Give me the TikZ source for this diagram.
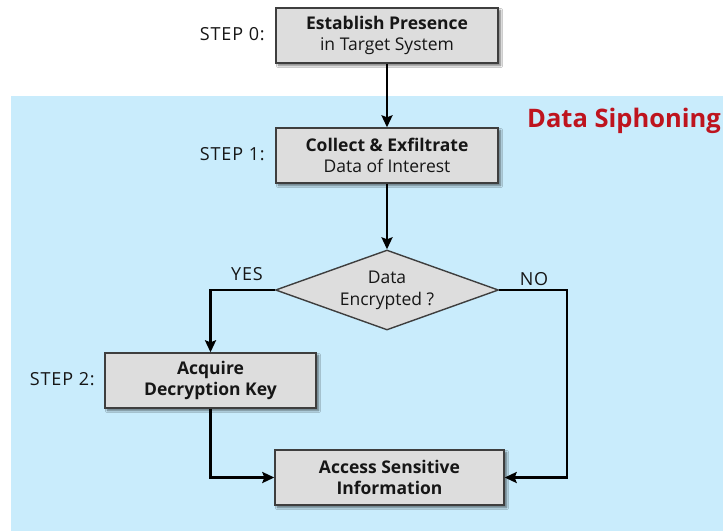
\documentclass[tikz,border=0pt]{standalone}
\usepackage{fontspec}
\setmainfont{Open Sans}
\usetikzlibrary{shapes.geometric,arrows.meta,shadows.blur}

\definecolor{panelblue}{RGB}{201,236,252}
\definecolor{boxgrey}{RGB}{221,221,221}
\definecolor{boxedge}{RGB}{62,62,62}
\definecolor{inkdark}{RGB}{22,22,22}
\definecolor{titlered}{RGB}{190,20,30}

\tikzset{
  stepbox/.style={draw=boxedge, line width=1.4pt, fill=boxgrey,
    minimum height=55pt, inner sep=0pt, align=center, text=inkdark,
    font=\fontsize{17.5}{21.5}\selectfont,
    blur shadow={shadow xshift=2.5pt, shadow yshift=-2.5pt, shadow blur steps=6, shadow opacity=55}},
  decision/.style={diamond, aspect=2.79, draw=boxedge, line width=1.4pt, fill=boxgrey,
    minimum width=223pt, minimum height=80pt, inner sep=0pt, align=center,
    text=inkdark, font=\fontsize{17.5}{22}\selectfont},
  steplabel/.style={anchor=base east, inner sep=0pt, text=inkdark,
    font=\fontsize{18}{20}\selectfont\addfontfeature{LetterSpace=5}},
  branchlabel/.style={anchor=base, inner sep=0pt, text=inkdark,
    font=\fontsize{18}{20}\selectfont\addfontfeature{LetterSpace=5}},
  flow/.style={line width=2.3pt, draw=black,
    -{Stealth[length=12pt, width=11pt, inset=2pt]}},
}

\begin{document}
\begin{tikzpicture}[x=1pt, y=-1pt]
  % canvas and the shaded stage panel
  \fill[white] (0,0) rectangle (723,531);
  \fill[panelblue] (11,96) rectangle (723,531);
  \useasboundingbox (0,0) rectangle (723,531);

  \node[anchor=base east, inner sep=0pt, text=titlered,
        font=\fontsize{25.5}{30}\selectfont\bfseries] (title) at (721,127) {Data Siphoning};

  % process boxes
  \node[stepbox, minimum width=222pt] (s0) at (387,35.5)
    {\textbf{Establish Presence}\\in Target System};
  \node[stepbox, minimum width=222pt] (s1) at (387,155.5)
    {\textbf{Collect \& Exfiltrate}\\Data of Interest};
  \node[decision] (enc) at (387,290) {Data\\Encrypted ?};
  \node[stepbox, minimum width=211pt] (s2) at (210.5,380.5)
    {\textbf{Acquire}\\\textbf{Decryption Key}};
  \node[stepbox, minimum width=229pt] (s3) at (389.5,477.5)
    {\textbf{Access Sensitive}\\\textbf{Information}};

  % step captions
  \node[steplabel] (l0) at (265,40) {STEP 0:};
  \node[steplabel] (l1) at (265,160) {STEP 1:};
  \node[steplabel] (l2) at (95,385) {STEP 2:};

  % branch captions
  \node[branchlabel] (yes) at (247,280) {YES};
  \node[branchlabel] (no) at (534,285) {NO};

  % connectors
  \coordinate (nobend) at (567,290);
  \draw[flow] (s0.south) -- (s1.north);
  \draw[flow] (s1.south) -- (enc.north);
  \draw[flow] (enc.west) -| (s2.north);
  \draw[flow] (s2.south) |- (s3.west);
  \draw[flow] (enc.east) -- (nobend) |- (s3.east);
\end{tikzpicture}
\end{document}
